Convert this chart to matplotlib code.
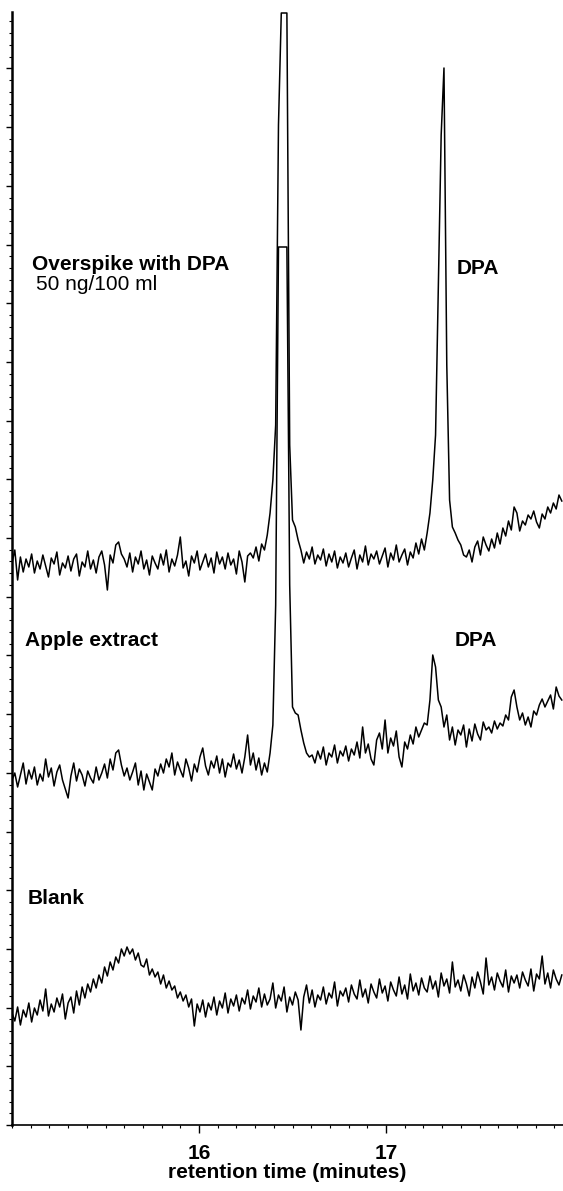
import matplotlib.pyplot as plt
import numpy as np
from matplotlib.ticker import MultipleLocator, AutoMinorLocator

plt.rcParams['font.family'] = ['Liberation Sans', 'DejaVu Sans']

# detector sampling: one point every 0.015 min from 15.0 min
t_start = 15.0
t_step = 0.015

# signal (arbitrary units, 0 = bottom axis)
overspike = [
    562, 575, 545, 568, 553, 566, 558, 571, 552, 564,
    556, 570, 559, 548, 567, 561, 573, 550, 562, 557,
    569, 554, 566, 571, 549, 563, 558, 574, 556, 565,
    552, 568, 574, 560, 535, 570, 562, 580, 583, 571,
    566, 558, 572, 553, 568, 561, 574, 556, 565, 550,
    569, 562, 556, 571, 560, 575, 553, 566, 559, 570,
    588, 557, 564, 549, 569, 562, 574, 555, 563, 571,
    558, 567, 552, 573, 561, 568, 556, 572, 560, 566,
    551, 574, 563, 543, 569, 572, 567, 578, 564, 581,
    575, 590, 612, 645, 700, 1000, 1112, 1112, 1112, 680,
    605, 598, 585, 575, 562, 573, 566, 578, 561, 570,
    565, 576, 559, 571, 563, 574, 557, 568, 562, 572,
    558, 567, 575, 556, 570, 563, 579, 560, 571, 566,
    574, 561, 569, 577, 558, 572, 565, 580, 563, 570,
    576, 560, 573, 567, 582, 571, 586, 575, 592, 612,
    645, 690, 840, 990, 1057, 760, 625, 598, 592, 585,
    580, 570, 568, 575, 563, 578, 584, 570, 588, 580,
    574, 586, 577, 592, 581, 597, 589, 604, 595, 618,
    612, 594, 604, 600, 610, 606, 614, 603, 597, 611,
    606, 618, 612, 622, 616, 630, 624,
]

apple = [
    345, 352, 338, 350, 362, 341, 355, 346, 358, 340,
    351, 344, 366, 348, 357, 339, 353, 360, 345, 336,
    327, 349, 362, 344, 356, 350, 339, 354, 347, 342,
    358, 345, 352, 361, 347, 366, 355, 372, 375, 360,
    349, 357, 345, 353, 362, 340, 354, 335, 351, 343,
    335, 356, 349, 361, 352, 366, 358, 372, 350, 363,
    355, 348, 366, 357, 344, 361, 353, 368, 377, 359,
    350, 364, 357, 369, 352, 366, 348, 362, 358, 371,
    356, 365, 352, 368, 390, 360, 372, 355, 367, 350,
    362, 353, 372, 400, 520, 878, 878, 878, 878, 540,
    418, 412, 410, 395, 382, 372, 368, 370, 362, 374,
    366, 378, 360, 372, 368, 380, 362, 374, 369, 379,
    364, 376, 370, 383, 367, 398, 372, 381, 366, 360,
    385, 392, 376, 405, 372, 387, 379, 394, 368, 358,
    383, 376, 390, 381, 398, 388, 395, 402, 400, 425,
    470, 458, 425, 418, 398, 410, 385, 398, 380, 395,
    390, 400, 378, 396, 384, 401, 391, 385, 403, 395,
    398, 392, 404, 396, 402, 399, 410, 405, 428, 435,
    418, 405, 412, 400, 408, 398, 414, 410, 420, 426,
    418, 424, 430, 416, 438, 429, 425,
]

blank = [
    112, 104, 118, 100, 115, 108, 122, 103, 117, 110,
    125, 114, 136, 109, 121, 113, 127, 118, 131, 106,
    122, 128, 112, 134, 120, 138, 127, 141, 133, 146,
    137, 150, 142, 158, 149, 163, 155, 168, 162, 176,
    169, 178, 171, 176, 165, 172, 160, 158, 166, 150,
    156, 148, 153, 141, 150, 137, 144, 135, 139, 127,
    133, 124, 130, 118, 126, 99, 121, 113, 125, 108,
    122, 115, 128, 110, 124, 117, 132, 112, 126, 119,
    130, 114, 127, 121, 135, 116, 129, 123, 137, 118,
    131, 120, 126, 142, 117, 130, 124, 138, 113, 128,
    120, 133, 125, 95, 128, 140, 122, 135, 118, 130,
    125, 138, 121, 132, 127, 143, 119, 134, 129, 137,
    123, 140, 131, 126, 145, 128, 136, 122, 141, 133,
    127, 146, 132, 139, 124, 143, 135, 129, 148, 131,
    140, 126, 151, 134, 142, 130, 147, 137, 133, 149,
    136, 144, 128, 152, 139, 146, 132, 163, 138, 145,
    134, 150, 141, 129, 148, 137, 153, 143, 131, 167,
    140, 148, 135, 152, 144, 138, 155, 133, 149, 142,
    150, 137, 153, 145, 139, 156, 134, 151, 146, 169,
    141, 152, 137, 155, 146, 140, 150,
]

tick_times = [16, 17]
tick_labels = ['16', '17']

fig = plt.figure(figsize=(5.63, 11.91), dpi=100)
ax = fig.add_axes([12 / 563, 66 / 1191, 551 / 563, 1113 / 1191])

for trace in (overspike, apple, blank):
    t = t_start + t_step * np.arange(len(trace))
    ax.plot(t, trace, color='black', lw=1.1)

ax.set_xlim(15.0, 17.9465)
ax.set_ylim(0, 1113)

# axes look like the original recorder chart
ax.spines['top'].set_visible(False)
ax.spines['right'].set_visible(False)
ax.spines['left'].set_linewidth(1.8)
ax.spines['bottom'].set_linewidth(1.2)

ax.set_xticks(tick_times)
ax.set_xticklabels(tick_labels, fontsize=15, fontweight='bold')
ax.xaxis.set_minor_locator(MultipleLocator(0.1))
ax.yaxis.set_major_locator(MultipleLocator(58.7))
ax.yaxis.set_minor_locator(AutoMinorLocator(5))
ax.set_yticklabels([])
ax.tick_params(axis='x', which='major', direction='out', length=6, width=1, pad=8)
ax.tick_params(axis='x', which='minor', direction='out', length=2.5, width=0.8)
ax.tick_params(axis='y', which='major', direction='out', length=4, width=1)
ax.tick_params(axis='y', which='minor', direction='out', length=2, width=0.8)
ax.set_xlabel('retention time (minutes)', fontsize=15, fontweight='bold', labelpad=0)

# trace labels
ax.text(15.107, 860, 'Overspike with DPA', fontsize=15, fontweight='bold', va='center')
ax.text(15.128, 840, '50 ng/100 ml', fontsize=15, va='center')
ax.text(17.380, 857, 'DPA', fontsize=15, fontweight='bold', va='center')
ax.text(15.070, 485, 'Apple extract', fontsize=15, fontweight='bold', va='center')
ax.text(17.369, 485, 'DPA', fontsize=15, fontweight='bold', va='center')
ax.text(15.085, 226, 'Blank', fontsize=15, fontweight='bold', va='center')

fig.savefig('out.png', dpi=100)
